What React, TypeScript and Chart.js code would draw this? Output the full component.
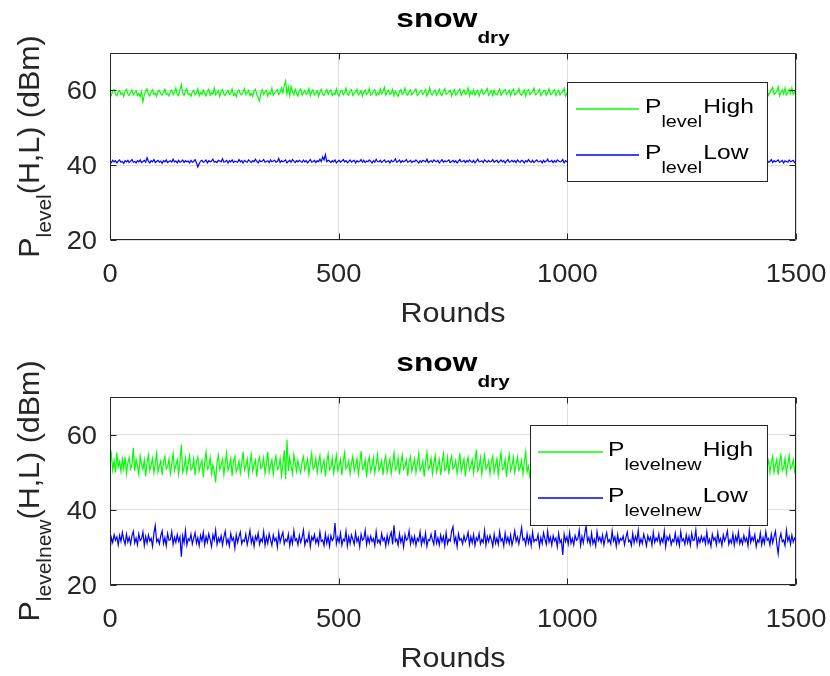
import React, { useEffect, useRef } from 'react';
import { Chart, registerables } from 'chart.js';
Chart.register(...registerables);

const FONT = '"Liberation Sans", Arial, Helvetica, sans-serif';

// ---- data (one point every 3 rounds) ----
const roundsMax = 1500;
const xTickValues = [0, 500, 1000, 1500];
const yTickValues = [20, 40, 60];

const levelHigh = [
  59.3, 58.7, 59.9, 60.2, 59.0, 58.5, 59.6, 60.0, 58.9, 59.4, 58.4, 59.8, 60.3, 59.1, 58.6, 59.5, 60.1, 58.8, 59.3, 59.9,
  58.6, 59.2, 58.3, 59.7, 57.0, 58.8, 59.9, 60.4, 59.0, 58.5, 59.6, 60.2, 58.9, 59.3, 58.4, 59.8, 60.0, 59.1, 58.7, 59.5,
  60.3, 58.9, 59.2, 58.5, 59.7, 60.1, 58.8, 59.4, 60.6, 59.0, 58.6, 60.2, 61.5, 59.3, 58.7, 59.9, 60.5, 58.9, 59.1, 58.4,
  59.6, 60.0, 58.8, 59.3, 60.4, 58.6, 59.5, 58.9, 60.1, 59.2, 58.5, 59.8, 60.3, 58.7, 59.4, 59.0, 60.6, 58.8, 59.3, 59.9,
  58.4, 59.7, 60.2, 59.0, 58.6, 59.5, 60.0, 58.9, 59.2, 60.4, 58.7, 59.3, 58.3, 59.8, 60.1, 59.1, 58.8, 59.6, 60.5, 58.9,
  59.4, 60.0, 58.6, 59.2, 58.4, 59.9, 60.3, 58.8, 58.1, 57.2, 59.3, 60.2, 58.9, 59.6, 60.0, 58.5, 59.4, 59.0, 60.6, 58.7,
  59.3, 59.8, 60.2, 58.9, 59.5, 60.7, 59.4, 61.2, 62.5, 59.0, 60.8, 58.6, 61.1, 59.7, 58.8, 60.3, 59.2, 58.5, 59.9, 60.4,
  58.7, 59.4, 60.0, 58.9, 59.2, 60.5, 58.6, 59.7, 60.1, 58.8, 59.3, 59.9, 58.4, 59.6, 60.3, 59.0, 58.7, 59.5, 60.2, 58.9,
  59.8, 60.1, 58.6, 59.3, 58.9, 60.4, 59.1, 58.5, 59.7, 60.0, 58.8, 59.4, 60.6, 59.0, 58.7, 59.9, 60.2, 58.6, 59.3, 59.6,
  60.3, 58.8, 59.2, 59.9, 58.5, 59.6, 60.1, 58.9, 59.4, 60.5, 58.7, 59.0, 59.8, 60.2, 58.6, 59.3, 58.9, 60.4, 59.1, 59.7,
  60.8, 58.7, 59.5, 60.0, 58.9, 59.2, 60.3, 58.6, 59.8, 59.1, 58.4, 59.7, 60.2, 58.9, 59.4, 60.6, 59.0, 58.7, 59.6, 60.1,
  58.8, 59.3, 59.9, 60.4, 58.6, 59.1, 59.7, 60.0, 58.9, 59.5, 60.2, 58.5, 59.3, 60.7, 59.0, 58.8, 59.6, 60.1, 58.7, 59.4,
  60.3, 59.0, 58.6, 59.8, 60.5, 58.9, 59.2, 59.7, 60.0, 58.5, 59.4, 60.2, 58.8, 59.1, 59.9, 60.4, 58.7, 59.5, 60.1, 58.9,
  59.3, 60.6, 58.6, 59.7, 59.0, 60.2, 58.8, 59.4, 60.0, 58.5, 59.6, 60.3, 58.9, 59.2, 59.8, 60.5, 58.7, 59.3, 59.9, 58.6,
  60.1, 59.0, 58.8, 59.5, 60.4, 58.7, 59.2, 59.9, 60.2, 58.9, 59.4, 60.0, 58.6, 59.7, 60.3, 58.8, 59.1, 59.6, 60.5, 59.0,
  58.7, 59.4, 60.1, 58.5, 59.8, 60.2, 58.9, 59.3, 59.7, 60.6, 58.8, 59.0, 59.5, 60.3, 58.6, 59.2, 59.9, 60.0, 58.7, 59.4,
  60.4, 58.9, 59.1, 59.8, 60.2, 58.6, 59.5, 60.0, 58.8, 59.3, 59.7, 60.5, 58.5, 59.2, 59.9, 60.1, 58.9, 59.4, 60.3, 58.7,
  59.6, 60.0, 58.8, 59.3, 60.4, 58.9, 59.1, 59.8, 60.2, 58.6, 59.5, 60.1, 58.7, 59.4, 59.9, 60.5, 58.8, 59.2, 59.7, 60.0,
  58.6, 59.3, 60.3, 58.9, 59.6, 60.1, 58.7, 59.0, 59.8, 60.4, 58.5, 59.4, 60.0, 58.8, 59.2, 59.9, 60.6, 58.9, 59.3, 59.7,
  60.2, 58.7, 59.5, 60.0, 58.9, 59.1, 59.8, 60.3, 58.6, 59.4, 60.1, 58.8, 59.2, 59.7, 60.5, 58.9, 59.3, 59.9, 60.2, 58.5,
  59.6, 60.0, 58.8, 59.4, 60.4, 58.7, 59.1, 59.8, 60.1, 58.9, 59.5, 60.3, 58.6, 59.2, 59.9, 60.0, 58.8, 59.4, 60.6, 59.0,
  58.7, 59.3, 59.8, 60.2, 58.9, 59.5, 60.0, 58.6, 59.2, 59.7, 60.4, 58.8, 59.1, 59.9, 60.3, 58.7, 59.4, 60.1, 58.9, 59.6,
  60.0, 58.5, 59.3, 59.8, 60.5, 58.9, 59.2, 59.6, 60.2, 58.7, 59.4, 60.0, 58.8, 59.1, 59.7, 60.3, 58.6, 59.5, 60.1, 58.9,
  59.3, 59.9, 60.4, 58.7, 59.2, 60.0, 58.9, 59.6, 60.2, 58.5, 59.4, 59.8, 60.6, 58.8, 59.1, 59.7, 60.3, 58.9, 59.5, 60.0,
  58.7, 59.4, 60.2, 60.8, 58.9, 59.3, 59.8, 61.0, 58.6, 59.5, 60.1, 59.0, 60.6, 58.8, 59.4, 60.3, 59.1, 60.7, 58.9, 59.6,
  60.2,
];

const levelLow = [
  41.0, 40.7, 41.3, 40.9, 41.2, 40.6, 41.1, 41.4, 40.8, 41.0, 40.5, 41.2, 40.9, 41.3, 40.7, 41.1, 41.5, 40.8, 41.0, 40.6,
  41.2, 40.9, 41.4, 40.7, 41.0, 41.3, 40.8, 42.0, 41.1, 40.6, 41.2, 40.9, 41.5, 40.7, 41.0, 41.3, 40.8, 41.1, 40.5, 41.2,
  40.9, 41.4, 40.7, 41.0, 41.2, 40.8, 41.6, 40.9, 41.1, 40.6, 41.3, 40.8, 41.0, 41.4, 40.7, 41.2, 40.9, 41.1, 40.6, 41.3,
  40.8, 41.0, 41.5, 40.7, 39.5, 40.4, 41.1, 41.3, 40.8, 41.0, 41.4, 40.6, 41.2, 40.9, 41.1, 41.6, 40.8, 41.0, 40.7, 41.3,
  41.1, 40.9, 41.7, 40.8, 41.0, 41.3, 40.6, 41.2, 40.9, 41.4, 40.7, 41.1, 41.0, 40.8, 41.5, 40.9, 41.2, 40.6, 41.3, 41.0,
  40.8, 41.4, 41.1, 40.7, 41.2, 40.9, 41.6, 41.0, 40.6, 41.3, 40.9, 41.1, 41.5, 40.8, 41.0, 41.2, 40.7, 41.4, 40.9, 41.1,
  41.3, 40.8, 41.0, 41.8, 40.7, 41.2, 40.9, 41.1, 41.4, 40.6, 41.0, 41.3, 40.8, 41.5, 41.1, 40.7, 41.2, 40.9, 41.3, 41.0,
  40.8, 41.4, 40.9, 41.2, 40.6, 41.1, 41.5, 40.8, 41.0, 41.3, 40.7, 41.2, 40.9, 41.6, 41.0, 42.2, 41.4, 42.8, 40.9, 41.3,
  41.1, 40.7, 41.2, 40.9, 41.4, 40.6, 41.0, 41.3, 40.8, 41.1, 41.5, 40.9, 41.2, 40.7, 41.0, 41.4, 40.8, 41.1, 41.3, 40.6,
  41.2, 40.9, 41.0, 41.5, 40.8, 41.3, 40.7, 41.1, 40.9, 41.4, 41.0, 40.6, 41.2, 40.8, 41.6, 41.0, 40.9, 41.3, 40.7, 41.1,
  41.4, 40.8, 41.0, 41.2, 40.6, 41.3, 40.9, 41.1, 41.7, 40.8, 41.0, 41.4, 40.7, 41.2, 40.9, 41.1, 41.5, 40.8, 41.0, 41.3,
  40.7, 41.1, 40.9, 41.4, 41.0, 40.6, 41.2, 40.8, 41.3, 41.1, 40.9, 41.6, 40.7, 41.0, 41.2, 40.8, 41.4, 41.1, 40.9, 41.3,
  40.6, 41.0, 41.5, 40.8, 41.2, 40.9, 41.1, 41.4, 40.7, 41.0, 41.3, 40.8, 41.2, 40.6, 41.1, 41.5, 40.9, 41.0, 41.3, 40.7,
  41.2, 40.9, 41.4, 41.0, 40.8, 41.3, 40.6, 41.1, 41.6, 40.9, 41.0, 41.2, 40.7, 41.4, 41.1, 40.8, 41.3, 40.9, 41.0, 41.5,
  40.8, 41.1, 41.3, 40.7, 41.0, 41.4, 40.9, 41.2, 40.6, 41.1, 41.5, 40.8, 41.0, 41.3, 40.9, 41.2, 40.7, 41.4, 41.0, 40.8,
  41.3, 41.1, 40.6, 41.2, 40.9, 41.5, 41.0, 40.8, 41.3, 40.7, 41.1, 41.4, 40.9, 41.0, 41.2, 40.6, 41.3, 40.8, 41.1, 41.6,
  40.9, 41.0, 41.3, 40.7, 41.2, 40.8, 41.4, 41.1, 40.9, 41.0, 41.5, 40.6, 41.2, 40.9, 41.1, 41.3, 40.8, 41.0, 41.4, 40.7,
  41.2, 40.9, 41.1, 41.5, 40.8, 41.0, 41.3, 40.6, 41.2, 40.9, 41.4, 41.0, 40.7, 41.1, 41.3, 40.8, 41.2, 40.9, 41.6, 41.0,
  40.8, 41.3, 40.9, 41.1, 41.4, 40.7, 41.0, 41.2, 40.8, 41.5, 41.1, 40.6, 41.3, 40.9, 41.0, 41.2, 40.7, 41.4, 41.1, 40.9,
  41.3, 40.8, 41.0, 41.5, 40.9, 41.2, 40.6, 41.1, 41.3, 40.8, 41.0, 41.4, 40.7, 41.2, 40.9, 41.1, 41.6, 40.8, 41.0, 41.3,
  40.7, 41.1, 41.4, 40.9, 41.0, 41.2, 40.8, 41.3, 40.6, 41.1, 41.5, 40.9, 41.2, 40.8, 41.0, 41.4, 40.7, 41.1, 41.3, 40.9,
  41.0, 41.2, 40.8, 41.5, 40.9, 41.1, 41.3, 40.7, 41.0, 41.4, 40.8, 41.2, 40.9, 41.1, 41.6, 40.7, 41.0, 41.3, 40.8, 41.2,
  40.9, 41.4, 41.0, 40.6, 41.3, 41.1, 40.8, 41.2, 40.9, 41.5, 41.0, 40.7, 41.3, 41.1, 40.8, 41.4, 40.9, 41.2, 41.0, 40.6,
  41.3, 40.8, 41.1, 41.4, 40.9, 41.0, 41.2, 40.7, 41.5, 41.1, 40.8, 41.3, 40.9, 41.0, 41.4, 40.6, 41.2, 40.9, 41.1, 41.3,
  40.8, 41.0, 41.5, 40.7, 41.2, 40.9, 41.1, 41.4, 40.8, 41.0, 41.3, 40.6, 41.2, 41.0, 40.8, 41.4, 40.9, 41.1, 41.3, 40.7,
  41.0,
];

const levelNewHigh = [
  52.3, 54.8, 50.6, 53.1, 49.9, 55.2, 51.4, 52.8, 50.2, 53.6, 51.0, 54.1, 49.6, 52.5, 53.9, 50.8, 52.0, 56.5, 50.3, 53.4,
  51.7, 49.4, 54.3, 52.1, 50.7, 53.2, 48.9, 52.6, 54.6, 50.5, 51.9, 53.7, 49.8, 52.4, 55.0, 50.1, 51.6, 53.0, 49.3, 52.9,
  54.2, 50.9, 51.5, 53.5, 49.7, 52.2, 54.9, 50.4, 51.8, 53.3, 49.5, 52.7, 57.3, 50.0, 51.2, 53.8, 49.9, 52.3, 54.4, 50.6,
  51.1, 53.6, 49.2, 52.8, 54.0, 50.3, 51.9, 53.1, 48.7, 52.5, 55.3, 50.8, 51.4, 53.9, 49.6, 52.0, 50.2, 47.3, 52.6, 54.5,
  50.7, 51.8, 53.4, 49.4, 52.3, 55.1, 50.5, 51.6, 53.7, 49.0, 52.9, 54.2, 50.1, 51.3, 53.0, 49.8, 52.4, 55.5, 50.6, 51.7,
  53.5, 49.3, 52.1, 54.7, 50.4, 51.9, 53.2, 48.8, 52.7, 54.0, 50.9, 51.5, 53.8, 49.7, 52.2, 55.4, 50.0, 51.8, 53.3, 49.5,
  52.6, 54.3, 50.7, 51.2, 53.6, 49.1, 52.0, 55.8, 48.2, 58.7, 50.3, 53.9, 51.6, 49.6, 54.6, 52.4, 50.2, 53.1, 51.0, 49.8,
  52.8, 54.1, 50.5, 51.7, 53.5, 49.4, 52.3, 55.0, 50.8, 51.4, 53.7, 49.9, 52.5, 54.4, 50.1, 51.9, 53.2, 48.9, 52.7, 54.8,
  50.6, 51.3, 53.8, 49.7, 52.1, 54.5, 50.4, 51.6, 53.4, 49.2, 52.9, 55.2, 50.9, 51.5, 53.0, 49.6, 52.4, 54.2, 50.3, 51.8,
  53.6, 49.5, 52.2, 55.6, 50.7, 51.1, 53.3, 48.6, 52.6, 54.0, 50.2, 51.7, 53.9, 49.8, 52.0, 54.7, 50.5, 51.4, 53.1, 49.3,
  52.8, 54.3, 50.0, 51.9, 53.5, 49.7, 52.3, 55.1, 50.6, 51.2, 53.8, 49.4, 52.5, 54.6, 50.8, 51.6, 53.2, 49.0, 52.7, 54.1,
  50.3, 51.8, 53.6, 49.9, 52.1, 54.9, 50.4, 51.3, 53.0, 48.8, 52.6, 55.3, 50.7, 51.5, 53.7, 49.6, 52.2, 54.4, 50.1, 51.7,
  53.4, 49.2, 52.4, 54.8, 50.5, 51.0, 53.9, 49.5, 52.8, 54.2, 50.9, 51.4, 53.1, 49.7, 52.0, 55.0, 50.2, 51.9, 53.5, 48.9,
  52.5, 54.0, 50.6, 51.6, 53.3, 49.8, 52.7, 56.0, 50.3, 51.2, 53.8, 49.4, 52.2, 54.6, 50.8, 51.5, 53.0, 49.6, 52.9, 54.3,
  50.0, 51.8, 53.6, 49.3, 52.4, 55.2, 50.7, 51.1, 53.4, 48.7, 52.6, 54.7, 50.4, 51.7, 53.9, 49.9, 52.1, 54.1, 50.5, 51.3,
  53.2, 49.5, 52.8, 55.4, 50.1, 51.6, 48.8, 47.2, 52.3, 54.5, 50.6, 51.0, 53.7, 49.7, 52.5, 54.9, 50.3, 51.9, 53.1, 49.1,
  52.0, 54.2, 50.8, 51.4, 53.5, 49.6, 52.7, 55.1, 50.2, 51.7, 53.3, 49.4, 52.4, 54.4, 50.9, 51.2, 53.8, 49.8, 52.2, 54.0,
  50.5, 51.5, 53.0, 49.2, 52.6, 55.5, 50.0, 51.8, 53.6, 48.9, 52.1, 54.6, 50.7, 51.3, 53.9, 49.5, 52.8, 54.3, 50.4, 51.6,
  53.4, 49.9, 52.3, 55.0, 50.6, 51.1, 53.2, 49.3, 52.5, 54.8, 50.1, 51.9, 53.7, 49.6, 52.0, 54.1, 50.9, 51.4, 53.1, 48.8,
  52.7, 55.3, 50.3, 51.7, 53.5, 49.7, 52.4, 54.5, 50.5, 51.2, 53.8, 49.4, 52.2, 54.9, 50.8, 51.5, 53.0, 49.1, 52.9, 54.2,
  50.2, 51.8, 53.6, 49.8, 52.1, 55.2, 50.6, 51.3, 53.3, 48.7, 52.6, 54.7, 50.0, 51.9, 53.9, 49.5, 52.3, 54.4, 50.7, 51.1,
  53.4, 49.3, 52.8, 55.1, 50.4, 51.6, 53.1, 49.9, 52.0, 54.0, 50.9, 51.4, 53.7, 49.6, 52.5, 54.6, 50.1, 51.8, 53.2, 48.9,
  52.4, 54.8, 50.5, 51.2, 53.5, 49.7, 52.7, 55.4, 50.3, 51.7, 53.0, 49.2, 52.2, 54.3, 50.8, 51.5, 53.8, 49.4, 52.9, 54.1,
  50.6, 51.0, 53.3, 49.8, 52.3, 55.0, 50.2, 51.9, 53.6, 48.6, 52.5, 54.5, 50.7, 51.3, 53.9, 49.5, 52.1, 54.9, 50.4, 51.6,
  53.1, 49.9, 52.6, 54.2, 50.0, 51.8, 53.4, 49.3, 52.8, 54.6, 50.5, 51.2, 53.7, 49.6, 52.0, 54.4, 50.9, 51.5, 53.2, 50.3,
  52.4,
];

const levelNewLow = [
  29.0, 32.6, 31.3, 33.4, 31.9, 32.8, 30.6, 33.2, 31.6, 34.0, 32.1, 30.8, 33.5, 31.4, 32.7, 30.9, 33.0, 34.3, 31.2, 32.5,
  30.7, 33.6, 31.8, 32.3, 34.1, 30.5, 32.9, 31.1, 33.3, 31.7, 32.4, 30.3, 33.8, 35.8, 31.5, 32.2, 30.9, 33.1, 34.4, 31.0,
  32.6, 30.4, 33.7, 31.9, 32.0, 34.2, 30.8, 32.7, 31.3, 33.4, 31.6, 32.8, 27.5, 33.0, 31.2, 34.5, 30.6, 32.3, 31.8, 33.5,
  30.9, 32.4, 33.9, 31.1, 32.6, 30.5, 33.2, 31.7, 34.0, 30.7, 32.9, 31.4, 33.6, 32.1, 30.2, 33.3, 31.9, 34.6, 30.8, 32.5,
  31.5, 33.1, 30.6, 32.8, 34.3, 31.0, 32.2, 30.4, 33.7, 31.8, 32.6, 29.8, 33.4, 31.3, 32.9, 34.1, 30.9, 32.0, 31.6, 33.5,
  30.7, 32.4, 34.5, 31.2, 32.7, 30.3, 33.0, 31.9, 33.8, 30.8, 32.3, 31.5, 34.2, 30.6, 32.8, 31.1, 33.6, 32.0, 30.5, 33.3,
  31.7, 32.5, 30.1, 33.9, 31.4, 32.9, 34.0, 30.9, 32.2, 31.6, 33.5, 30.4, 32.7, 31.0, 34.4, 31.8, 32.3, 30.7, 33.2, 31.3,
  32.6, 34.6, 30.6, 32.1, 31.5, 33.7, 30.2, 32.8, 31.9, 33.4, 31.2, 32.4, 30.8, 34.1, 31.6, 32.0, 30.5, 33.6, 31.1, 32.9,
  30.3, 33.1, 31.8, 32.5, 36.5, 30.9, 32.7, 31.4, 33.8, 30.6, 32.2, 31.7, 34.3, 30.4, 32.9, 31.0, 33.3, 32.1, 30.8, 33.9,
  31.5, 32.6, 30.2, 33.5, 31.9, 32.3, 34.5, 30.7, 32.8, 31.2, 33.0, 31.6, 32.4, 30.5, 34.2, 31.3, 32.0, 30.9, 33.7, 31.8,
  32.5, 30.4, 33.2, 31.1, 32.9, 34.0, 30.8, 35.9, 31.6, 32.2, 30.6, 33.6, 31.4, 32.7, 30.1, 33.4, 31.9, 32.3, 34.4, 30.9,
  32.8, 31.2, 33.0, 30.5, 32.4, 31.7, 34.1, 30.7, 32.6, 31.3, 33.8, 30.3, 32.1, 31.8, 33.5, 32.0, 30.8, 34.6, 31.1, 32.5,
  30.6, 33.3, 31.5, 32.9, 30.4, 33.9, 31.0, 32.2, 31.7, 34.3, 35.5, 31.4, 32.7, 30.2, 33.6, 31.9, 32.3, 30.9, 33.1, 31.6,
  32.4, 34.0, 30.7, 32.8, 31.2, 33.4, 30.5, 32.6, 31.8, 33.7, 30.9, 32.1, 31.3, 34.5, 30.6, 32.9, 31.5, 33.2, 32.0, 30.3,
  33.5, 31.1, 32.5, 30.8, 34.2, 31.7, 32.3, 30.4, 33.8, 31.4, 32.7, 31.0, 33.3, 30.6, 32.2, 34.4, 31.6, 32.8, 30.9, 33.0,
  35.3, 31.9, 32.4, 30.7, 33.6, 31.2, 32.9, 30.5, 34.1, 31.5, 32.1, 31.8, 33.4, 30.3, 32.6, 31.0, 33.9, 32.2, 30.8, 34.3,
  31.4, 32.7, 30.6, 33.1, 31.7, 32.5, 30.2, 33.7, 31.3, 32.0, 28.0, 33.5, 31.6, 32.8, 30.9, 34.0, 31.1, 32.4, 30.7, 33.2,
  31.9, 32.3, 34.6, 30.5, 32.9, 31.2, 33.6, 35.7, 31.5, 32.6, 30.8, 33.8, 31.0, 32.2, 30.4, 34.2, 31.8, 32.7, 31.3, 33.3,
  30.6, 32.5, 33.9, 31.4, 32.1, 30.9, 34.4, 31.7, 32.8, 30.3, 33.4, 31.1, 32.4, 31.9, 33.0, 30.7, 32.6, 34.1, 31.5, 32.0,
  30.5, 33.7, 31.2, 32.9, 31.6, 34.5, 30.8, 32.3, 31.0, 33.5, 32.2, 30.4, 33.1, 31.8, 32.7, 30.6, 34.0, 31.3, 32.5, 31.7,
  33.6, 30.9, 32.4, 31.4, 34.3, 30.2, 32.8, 31.9, 33.2, 30.7, 32.1, 31.5, 33.8, 31.0, 32.6, 30.5, 34.2, 31.7, 32.3, 30.8,
  33.4, 31.2, 32.9, 30.6, 33.7, 31.8, 32.0, 34.6, 30.4, 32.5, 31.3, 33.0, 31.6, 32.7, 30.9, 34.1, 31.1, 32.2, 30.3, 33.5,
  31.9, 32.6, 30.7, 33.9, 31.4, 32.4, 30.5, 33.3, 31.7, 32.8, 34.4, 30.8, 32.1, 31.2, 33.6, 30.6, 32.9, 31.5, 34.0, 31.0,
  32.3, 30.9, 33.2, 31.6, 32.5, 30.4, 34.5, 31.3, 32.7, 31.8, 33.4, 30.2, 32.0, 31.4, 33.8, 30.7, 32.6, 31.1, 34.2, 31.9,
  32.4, 30.6, 33.5, 31.2, 32.8, 34.3, 30.9, 28.3, 32.2, 33.7, 31.5, 32.0, 30.5, 34.6, 31.7, 32.9, 30.8, 33.3, 31.4, 32.5,
  31.8,
];

const GREEN = '#00ff00';
const BLUE = '#0000ff';
const INK = '#262626';

type Part = { t: string; size: number; bold?: boolean; dy?: number; gap?: number };

function drawRich(
  ctx: CanvasRenderingContext2D,
  parts: Part[],
  x: number,
  y: number,
  align: 'left' | 'center' | 'right',
  sx: number,
  rotate: boolean,
  color: string
) {
  ctx.save();
  ctx.translate(x, y);
  if (rotate) ctx.rotate(-Math.PI / 2);
  ctx.scale(sx, 1);
  ctx.fillStyle = color;
  ctx.textBaseline = 'alphabetic';
  ctx.textAlign = 'left';
  const fontOf = (p: Part) => `${p.bold ? 'bold ' : ''}${p.size}px ${FONT}`;
  let total = 0;
  const widths = parts.map((p) => {
    ctx.font = fontOf(p);
    const w = ctx.measureText(p.t).width + (p.gap || 0);
    total += w;
    return w;
  });
  let cx = align === 'center' ? -total / 2 : align === 'right' ? -total : 0;
  parts.forEach((p, i) => {
    ctx.font = fontOf(p);
    ctx.fillText(p.t, cx, p.dy || 0);
    cx += widths[i];
  });
  ctx.restore();
}

type PanelCfg = {
  padTop: number;
  padBottom: number;
  high: number[];
  low: number[];
  highLabel: string;
  lowLabel: string;
  sub: string;
  legendBox: [number, number, number, number];
  legendLineX: [number, number];
  legendTextX: number;
  legendRowY: [number, number];
  subSize: number;
};

function toPoints(vals: number[]) {
  const n = vals.length;
  return vals.map((y, i) => ({ x: (i * roundsMax) / (n - 1), y }));
}

function makePlugin(cfg: PanelCfg) {
  return {
    id: 'matlabDecor',
    afterDatasetsDraw(chart: any) {
      const ctx: CanvasRenderingContext2D = chart.ctx;
      const { left, right, top, bottom } = chart.chartArea;
      const xs = chart.scales.x;
      const ys = chart.scales.y;
      const L = Math.round(left) + 0.5;
      const R = Math.round(right) - 0.5;
      const T = Math.round(top) + 0.5;
      const B = Math.round(bottom) - 0.5;

      ctx.save();
      ctx.strokeStyle = INK;
      ctx.lineWidth = 1;
      ctx.beginPath();
      ctx.rect(L, T, R - L, B - T);
      xTickValues.forEach((v) => {
        const px = Math.round(xs.getPixelForValue(v)) + 0.5;
        ctx.moveTo(px, B);
        ctx.lineTo(px, B - 6);
        ctx.moveTo(px, T);
        ctx.lineTo(px, T + 6);
      });
      yTickValues.forEach((v) => {
        const py = Math.round(ys.getPixelForValue(v)) + 0.5;
        ctx.moveTo(L, py);
        ctx.lineTo(L + 6, py);
        ctx.moveTo(R, py);
        ctx.lineTo(R - 6, py);
      });
      ctx.stroke();
      ctx.restore();

      xTickValues.forEach((v) => {
        drawRich(ctx, [{ t: String(v), size: 26 }], xs.getPixelForValue(v), bottom + 42, 'center', 1.05, false, INK);
      });
      yTickValues.forEach((v) => {
        drawRich(ctx, [{ t: String(v), size: 26 }], 97, ys.getPixelForValue(v) + 9, 'right', 1.05, false, INK);
      });

      drawRich(ctx, [{ t: 'Rounds', size: 27 }], (left + right) / 2, bottom + 82, 'center', 1.13, false, INK);

      drawRich(
        ctx,
        [
          { t: 'P', size: 29 },
          { t: cfg.sub, size: 20, dy: 12 },
          { t: '(H,L) (dBm)', size: 29 },
        ],
        39,
        (top + bottom) / 2,
        'center',
        1.05,
        true,
        INK
      );

      drawRich(
        ctx,
        [
          { t: 'snow', size: 26, bold: true },
          { t: 'dry', size: 17, bold: true, dy: 16 },
        ],
        (left + right) / 2,
        top - 26,
        'center',
        1.22,
        false,
        '#000'
      );

      const [bx0, by0, bx1, by1] = cfg.legendBox;
      ctx.save();
      ctx.fillStyle = '#fff';
      ctx.fillRect(bx0, by0, bx1 - bx0, by1 - by0);
      ctx.strokeStyle = INK;
      ctx.lineWidth = 1;
      ctx.strokeRect(bx0 + 0.5, by0 + 0.5, bx1 - bx0, by1 - by0);
      const entries = [
        { color: GREEN, label: cfg.highLabel },
        { color: BLUE, label: cfg.lowLabel },
      ];
      entries.forEach((e, i) => {
        const ly = Math.round(cfg.legendRowY[i]);
        ctx.strokeStyle = e.color;
        ctx.lineWidth = 1.3;
        ctx.beginPath();
        ctx.moveTo(cfg.legendLineX[0], ly);
        ctx.lineTo(cfg.legendLineX[1], ly);
        ctx.stroke();
        drawRich(
          ctx,
          [
            { t: 'P', size: 20.5 },
            { t: cfg.sub, size: cfg.subSize, dy: 13.5, gap: 1 },
            { t: e.label, size: 20.5 },
          ],
          cfg.legendTextX,
          ly + 4,
          'left',
          1.2,
          false,
          '#000'
        );
      });
      ctx.restore();
    },
  };
}

function Panel({ cfg }: { cfg: PanelCfg }) {
  const ref = useRef<HTMLCanvasElement | null>(null);
  useEffect(() => {
    if (!ref.current) return;
    const gridCol = 'rgba(38,38,38,0.15)';
    const chart = new Chart(ref.current, {
      type: 'line',
      data: {
        datasets: [
          {
            label: 'High',
            data: toPoints(cfg.high),
            borderColor: GREEN,
            backgroundColor: GREEN,
            borderWidth: 1.2,
            pointRadius: 0,
            tension: 0,
          },
          {
            label: 'Low',
            data: toPoints(cfg.low),
            borderColor: BLUE,
            backgroundColor: BLUE,
            borderWidth: 1.2,
            pointRadius: 0,
            tension: 0,
          },
        ],
      },
      options: {
        responsive: false,
        animation: false,
        devicePixelRatio: 1,
        events: [],
        layout: { padding: { left: 110, right: 34, top: cfg.padTop, bottom: cfg.padBottom } },
        plugins: {
          legend: { display: false },
          title: { display: false },
          tooltip: { enabled: false },
        },
        scales: {
          x: {
            type: 'linear',
            min: 0,
            max: roundsMax,
            ticks: { display: false, stepSize: 500 },
            grid: { color: gridCol, drawTicks: false, lineWidth: 1 },
            border: { display: false },
            afterFit: (s: any) => {
              s.height = 0;
            },
          },
          y: {
            type: 'linear',
            min: 20,
            max: 70,
            ticks: { display: false, stepSize: 20, includeBounds: false },
            grid: { color: gridCol, drawTicks: false, lineWidth: 1 },
            border: { display: false },
            afterFit: (s: any) => {
              s.width = 0;
            },
          },
        },
      } as any,
      plugins: [makePlugin(cfg)],
    });
    return () => chart.destroy();
  }, [cfg]);
  return <canvas ref={ref} width={830} height={338} style={{ display: 'block', width: 830, height: 338 }} />;
}

const topCfg: PanelCfg = {
  padTop: 53,
  padBottom: 98,
  high: levelHigh,
  low: levelLow,
  highLabel: 'High',
  lowLabel: 'Low',
  sub: 'level',
  legendBox: [567, 82, 767, 181],
  legendLineX: [576, 639],
  legendTextX: 645,
  legendRowY: [109, 155],
  subSize: 16.5,
};

const bottomCfg: PanelCfg = {
  padTop: 59,
  padBottom: 91,
  high: levelNewHigh,
  low: levelNewLow,
  highLabel: 'High',
  lowLabel: 'Low',
  sub: 'levelnew',
  legendBox: [530, 87, 767, 187],
  legendLineX: [538, 603],
  legendTextX: 608,
  legendRowY: [114, 160],
  subSize: 16.5,
};

export default function App() {
  return (
    <div style={{ position: 'absolute', left: 0, top: 0, width: 830, height: 676, background: '#fff' }}>
      <Panel cfg={topCfg} />
      <Panel cfg={bottomCfg} />
    </div>
  );
}
